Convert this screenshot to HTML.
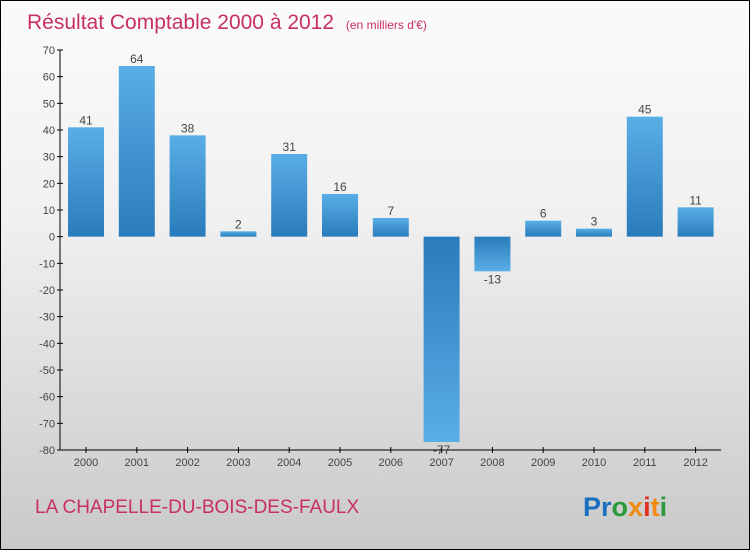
<!DOCTYPE html>
<html><head><meta charset="utf-8"><style>
body{margin:0;width:750px;height:550px;overflow:hidden}
#wrap{position:relative;width:748px;height:548px;border:1px solid #000;background:linear-gradient(#fbfbfb,#f0f0f0 40%,#c9c9c9);font-family:"Liberation Sans",sans-serif}
</style></head><body>
<div id="wrap">
<svg width="748" height="548">
<defs>
<linearGradient id="gp" x1="0" y1="0" x2="0" y2="1"><stop offset="0" stop-color="#5aaee6"/><stop offset="1" stop-color="#2a7bbb"/></linearGradient>
<linearGradient id="gn" x1="0" y1="0" x2="0" y2="1"><stop offset="0" stop-color="#2a7bbb"/><stop offset="1" stop-color="#5aaee6"/></linearGradient>
</defs>
<text x="26" y="28" font-size="21" fill="#c8305f">Résultat Comptable 2000 à 2012 <tspan font-size="12" dx="6">(en milliers d'€)</tspan></text>
<g id="plot"></g>
<text x="34" y="512" font-size="19" fill="#c8305f">LA CHAPELLE-DU-BOIS-DES-FAULX</text>
<text x="582" y="515" font-size="27" font-weight="bold"><tspan fill="#1a6fc0">Pr</tspan><tspan fill="#2a9a3a">o</tspan><tspan fill="#f08a10">x</tspan><tspan fill="#e03020">i</tspan><tspan fill="#f08a10">t</tspan><tspan fill="#2a9a3a">i</tspan></text>
</svg></div>
<script>
const categories=["2000","2001","2002","2003","2004","2005","2006","2007","2008","2009","2010","2011","2012"];
const values=[41,64,38,2,31,16,7,-77,-13,6,3,45,11];
const ticks=[70,60,50,40,30,20,10,0,-10,-20,-30,-40,-50,-60,-70,-80];
const NS="http://www.w3.org/2000/svg";
const g=document.getElementById('plot');
const y0=49,y1=449,vmax=70,vmin=-80,x0=59,x1=720;
const y=v=>y0+(vmax-v)*(y1-y0)/(vmax-vmin);
const step=50.8,xc=i=>85+i*step;
function mk(t,a){const e=document.createElementNS(NS,t);for(const k in a)e.setAttribute(k,a[k]);g.appendChild(e);return e;}
let e=mk('line',{x1:x0,y1:y0,x2:x0,y2:y1,stroke:'#000'});


e=mk('line',{x1:x0,y1:y1,x2:x1,y2:y1,stroke:'#000'});


ticks.forEach(t=>{
 let l=mk('line',{x1:x0-3,y1:y(t),x2:x0+3,y2:y(t),stroke:'#000'});
 
 
 let tx=mk('text',{x:x0-5,y:y(t)+4,'font-size':11,fill:'#444','text-anchor':'end'});
 tx.textContent=t;
 
 
});
categories.forEach((c,i)=>{
 const v=values[i],w=36,top=Math.min(y(v),y(0)),h=Math.abs(y(v)-y(0));
 let r=mk('rect',{x:xc(i)-w/2,y:top,width:w,height:h,fill:v>=0?'url(#gp)':'url(#gn)'});
 
 
 let tk=mk('line',{x1:xc(i),y1:y1-3,x2:xc(i),y2:y1+3,stroke:'#000'});
 
 
 let lb=mk('text',{x:xc(i),y:y1+16,'font-size':11,fill:'#444','text-anchor':'middle'});
 lb.textContent=c;
 
 
 let vl=mk('text',{x:xc(i),y:v>=0?y(v)-3:y(v)+12,'font-size':12,fill:'#444','text-anchor':'middle'});
 vl.textContent=v;
 
 
});
</script>
</body></html>
